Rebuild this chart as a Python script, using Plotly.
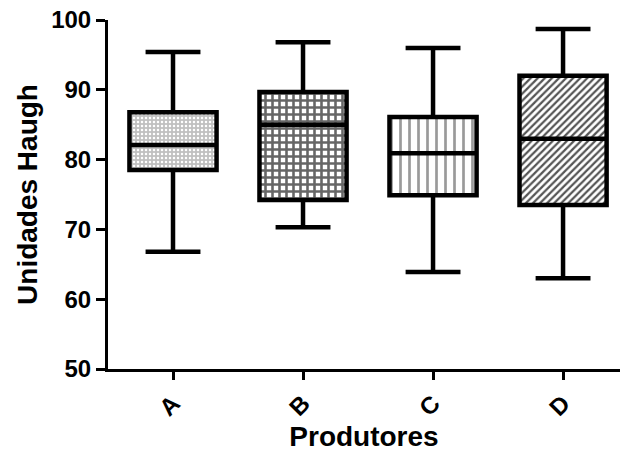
import plotly.graph_objects as go

categories = ["A", "B", "C", "D"]
lower = [66.8, 70.3, 63.9, 63.0]
q1 = [78.5, 74.2, 74.9, 73.5]
median = [82.1, 85.0, 80.9, 83.0]
q3 = [86.8, 89.7, 86.1, 92.0]
upper = [95.4, 96.8, 96.0, 98.7]
y_ticks = [50, 60, 70, 80, 90, 100]

font_fam = "Liberation Sans, Arial, sans-serif"

fig = go.Figure()

# patterned box fills
fig.add_trace(go.Bar(
    x=categories,
    base=q1,
    y=[b - a for a, b in zip(q1, q3)],
    width=0.67,
    marker=dict(
        color="white",
        line=dict(width=0),
        pattern=dict(
            shape=[".", "+", "|", "/"],
            fgcolor=["#ffffff", "#666666", "#9a9a9a", "#555555"],
            bgcolor=["#c0c0c0", "#ffffff", "#ffffff", "#ffffff"],
            size=[4, 7, 9, 5],
            solidity=[0.3, 0.6, 0.3, 0.45],
            fillmode="replace",
        ),
    ),
    hoverinfo="skip",
    showlegend=False,
))

# box outlines and whiskers
fig.add_trace(go.Box(
    x=categories,
    q1=q1,
    median=median,
    q3=q3,
    lowerfence=lower,
    upperfence=upper,
    width=0.67,
    whiskerwidth=0.63,
    fillcolor="rgba(0,0,0,0)",
    line=dict(color="black", width=4.5),
    boxpoints=False,
    showlegend=False,
))

fig.update_layout(
    width=620,
    height=454,
    margin=dict(l=108, r=0, t=20, b=85),
    paper_bgcolor="white",
    plot_bgcolor="white",
    font=dict(family=font_fam, color="black"),
    showlegend=False,
    barmode="overlay",
)

fig.update_xaxes(
    range=[-0.5, 3.438],
    showline=True, linecolor="black", linewidth=3,
    ticks="outside", ticklen=8, tickwidth=3, tickcolor="black",
    tickangle=-45,
    tickfont=dict(size=24, family=font_fam, weight="bold"),
    showgrid=False, zeroline=False,
    title=dict(text="<b>Produtores</b>", font=dict(size=28, family=font_fam), standoff=2),
)

fig.update_yaxes(
    range=[50, 100],
    tickvals=y_ticks,
    showline=True, linecolor="black", linewidth=3,
    ticks="outside", ticklen=9, tickwidth=3, tickcolor="black",
    tickfont=dict(size=24, family=font_fam, weight="bold"),
    showgrid=False, zeroline=False,
    title=dict(text="<b>Unidades Haugh</b>", font=dict(size=28, family=font_fam), standoff=6),
)

fig.write_html("out.html")
